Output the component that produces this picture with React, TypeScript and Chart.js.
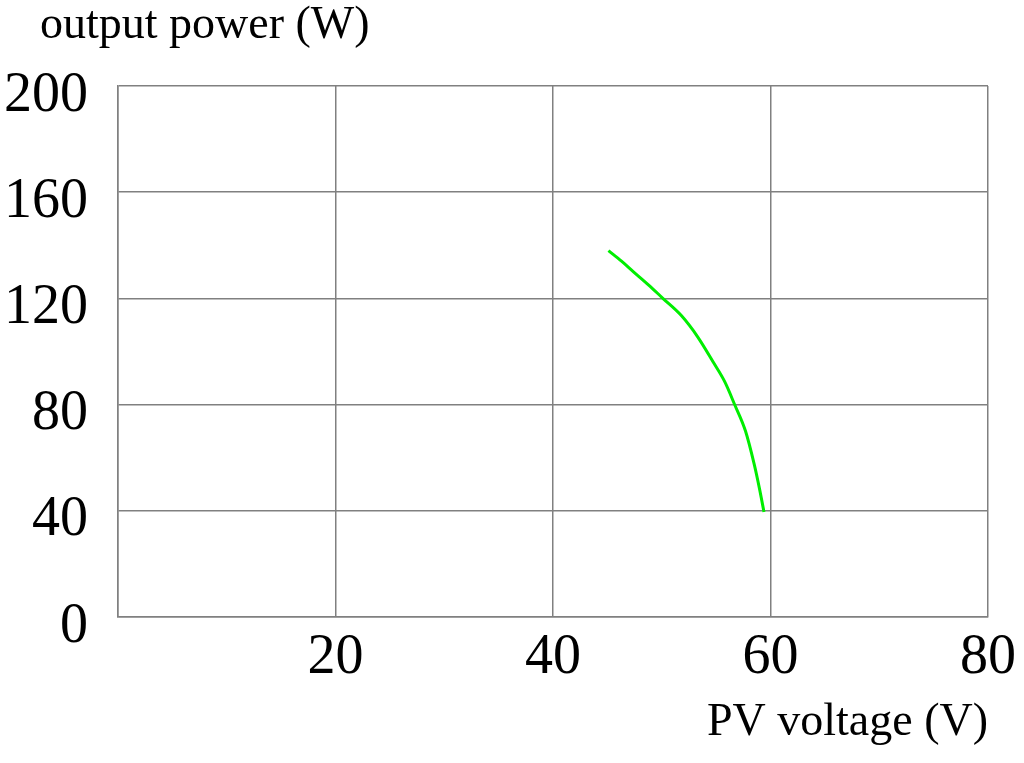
import React, { useEffect, useRef } from "react";
import { Chart, registerables } from "chart.js";

Chart.register(...registerables);

// PV voltage (V) vs output power (W)
const voltage = [45.1, 46.3, 47.4, 48.8, 50.1, 51.8, 53.3, 54.8, 55.8, 56.7, 57.7, 58.5, 59.0, 59.4];
const power = [138, 134, 130, 125, 120, 113.5, 105.5, 95.5, 88.5, 80, 70, 57.5, 48, 39.5];

const xTicks = [0, 20, 40, 60, 80];
const yTicks = [0, 40, 80, 120, 160, 200];

const yCaption = "output power (W)";
const xCaption = "PV voltage (V)";

const FONT = "'Liberation Serif', 'Times New Roman', serif";
const GRID = "#808080";

// draws the y-axis caption above the plot, left of the tick labels
const captionPlugin = {
  id: "yCaption",
  afterDraw(chart: Chart) {
    const { ctx, chartArea } = chart;
    ctx.save();
    ctx.font = `46px ${FONT}`;
    ctx.fillStyle = "#000";
    ctx.textAlign = "left";
    ctx.textBaseline = "alphabetic";
    ctx.fillText(yCaption, chartArea.left - 78, chartArea.top - 48);
    ctx.restore();
  },
};

const PowerCurve: React.FC = () => {
  const canvasRef = useRef<HTMLCanvasElement>(null);
  const chartRef = useRef<Chart | null>(null);

  useEffect(() => {
    if (!canvasRef.current) return;
    if (chartRef.current) chartRef.current.destroy();

    chartRef.current = new Chart(canvasRef.current, {
      type: "line",
      data: {
        datasets: [
          {
            label: "P-V",
            data: voltage.map((v, i) => ({ x: v, y: power[i] })),
            borderColor: "#00ee00",
            borderWidth: 3,
            pointRadius: 0,
            fill: false,
            cubicInterpolationMode: "monotone",
          },
        ],
      },
      options: {
        animation: false,
        responsive: true,
        maintainAspectRatio: false,
        layout: { padding: { top: 86, left: 5, right: 9, bottom: 0 } },
        plugins: {
          legend: { display: false },
          tooltip: { enabled: false },
        },
        scales: {
          x: {
            type: "linear",
            min: xTicks[0],
            max: xTicks[xTicks.length - 1],
            afterBuildTicks: (axis: any) => {
              axis.ticks = xTicks.map((v) => ({ value: v }));
            },
            grid: { color: GRID, lineWidth: 1.5, drawTicks: false },
            border: { color: GRID, width: 1.5 },
            ticks: {
              padding: 8,
              color: "#000",
              font: { family: FONT, size: 56 },
              callback: (v: any) => (v === 0 ? "" : String(v)),
            },
            title: {
              display: true,
              text: xCaption,
              align: "end",
              color: "#000",
              font: { family: FONT, size: 46, lineHeight: 1 },
              padding: { top: 0, bottom: 17 },
            },
          },
          y: {
            type: "linear",
            min: yTicks[0],
            max: yTicks[yTicks.length - 1],
            afterBuildTicks: (axis: any) => {
              axis.ticks = yTicks.map((v) => ({ value: v }));
            },
            afterFit: (axis: any) => {
              axis.width = 113;
            },
            grid: { color: GRID, lineWidth: 1.5, drawTicks: false },
            border: { color: GRID, width: 1.5 },
            ticks: {
              padding: 30,
              labelOffset: 10,
              color: "#000",
              font: { family: FONT, size: 56 },
            },
          },
        },
      },
      plugins: [captionPlugin],
    });

    return () => {
      if (chartRef.current) {
        chartRef.current.destroy();
        chartRef.current = null;
      }
    };
  }, []);

  return (
    <div style={{ position: "absolute", left: 0, top: 0, width: "1024px", height: "763px", background: "#fff" }}>
      <canvas ref={canvasRef} />
    </div>
  );
};

export default function App() {
  return <PowerCurve />;
}
